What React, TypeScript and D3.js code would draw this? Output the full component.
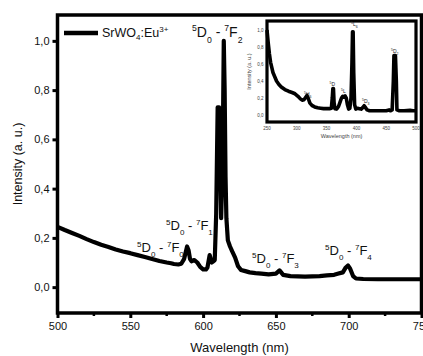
import { useRef, useEffect } from 'react'
import * as d3 from 'd3'

// emission spectrum (main plot)
const emWl = [500, 505, 510, 515, 520, 525, 530, 535, 540, 545, 550, 555, 560, 565, 570, 575, 578, 580, 583, 585, 587, 589, 590, 591, 592, 594, 596, 598, 600, 602, 603, 604.5, 606, 607, 608, 609, 610, 611, 611.8, 612.4, 613.4, 614.2, 614.8, 615.4, 616, 617, 618.5, 620, 622, 624, 626, 629, 632, 636, 640, 645, 650, 652.5, 655, 660, 665, 670, 675, 680, 685, 690, 693, 696, 698, 699.5, 701, 703, 705, 710, 720, 730, 740, 750]
const emI = [0.245, 0.232, 0.22, 0.208, 0.195, 0.183, 0.172, 0.163, 0.153, 0.145, 0.138, 0.13, 0.122, 0.114, 0.106, 0.1, 0.097, 0.094, 0.092, 0.095, 0.115, 0.165, 0.15, 0.115, 0.105, 0.11, 0.1, 0.082, 0.072, 0.072, 0.08, 0.13, 0.1, 0.105, 0.11, 0.3, 0.73, 0.73, 0.5, 0.28, 0.5, 1.0, 0.8, 0.45, 0.28, 0.19, 0.165, 0.145, 0.12, 0.085, 0.07, 0.065, 0.06, 0.057, 0.055, 0.052, 0.055, 0.068, 0.05, 0.045, 0.044, 0.043, 0.044, 0.045, 0.048, 0.05, 0.055, 0.06, 0.08, 0.088, 0.075, 0.045, 0.035, 0.033, 0.032, 0.032, 0.032, 0.032]

// excitation spectrum (inset)
const exWl = [250, 252, 254, 256, 258, 260, 263, 266, 270, 274, 280, 286, 292, 297, 302, 306, 309, 312, 315, 317, 319, 322, 326, 330, 335, 340, 345, 350, 355, 358, 359.5, 360.5, 361.5, 362.5, 364, 367, 370, 373, 375, 377, 379, 381, 383, 385, 387, 389, 391, 392.5, 393.5, 394.5, 395.5, 397, 399, 402, 405, 408, 411, 413, 415, 418, 422, 430, 440, 450, 455, 457, 460, 462, 463, 465.5, 467, 468, 472, 480, 490, 495, 500]
const exI = [1.0, 0.85, 0.72, 0.62, 0.56, 0.5, 0.45, 0.4, 0.36, 0.33, 0.3, 0.28, 0.265, 0.25, 0.22, 0.19, 0.175, 0.18, 0.21, 0.23, 0.2, 0.14, 0.11, 0.095, 0.085, 0.08, 0.075, 0.075, 0.075, 0.08, 0.2, 0.31, 0.31, 0.15, 0.075, 0.07, 0.1, 0.16, 0.2, 0.22, 0.21, 0.225, 0.2, 0.12, 0.07, 0.08, 0.2, 0.6, 0.98, 0.98, 0.5, 0.12, 0.07, 0.08, 0.075, 0.07, 0.09, 0.11, 0.09, 0.06, 0.05, 0.05, 0.05, 0.05, 0.06, 0.05, 0.06, 0.4, 0.7, 0.7, 0.4, 0.06, 0.05, 0.05, 0.055, 0.05, 0.05]

const xTicks = [500, 550, 600, 650, 700, 750]
const xMinor = [525, 575, 625, 675, 725]
const yTicks = [0, 0.2, 0.4, 0.6, 0.8, 1.0]
const inXTicks = [250, 300, 350, 400, 450, 500]

// transition labels: sup, upper level, sub, sup, lower level, sub
const transitions = [
  { text: ['5', 'D', '0', '7', 'F', '2'], x: 192, y: 37, size: 14 },
  { text: ['5', 'D', '0', '7', 'F', '1'], x: 166, y: 230, size: 13 },
  { text: ['5', 'D', '0', '7', 'F', '0'], x: 137, y: 252, size: 13 },
  { text: ['5', 'D', '0', '7', 'F', '3'], x: 252, y: 263, size: 13 },
  { text: ['5', 'D', '0', '7', 'F', '4'], x: 325, y: 255, size: 13 },
]

const FONT = '"Liberation Sans", Arial, Helvetica, sans-serif'
const comma = (d: number) => d3.format('.1f')(d).replace('.', ',')

export default function App() {
  const svgRef = useRef<SVGSVGElement>(null)

  useEffect(() => {
    if (!svgRef.current) return
    const svg = d3.select(svgRef.current)
    svg.selectAll('*').remove()

    const width = 423
    const height = 356
    const plot = { left: 57.5, right: 421.5, top: 15, bottom: 313 }

    const x = d3.scaleLinear().domain([500, 750]).range([plot.left, plot.right])
    const y = d3.scaleLinear().domain([-0.105, 1.105]).range([plot.bottom, plot.top])

    svg.attr('width', width).attr('height', height).style('font-family', FONT)

    // x axis
    const xAxis = svg.append('g')
      .attr('transform', `translate(0,${plot.bottom})`)
      .call(d3.axisBottom(x).tickValues(xTicks).tickSize(5).tickPadding(4).tickFormat(d3.format('d')))
    xAxis.select('.domain').remove()
    xAxis.selectAll('line').attr('stroke-width', 3)
    xAxis.selectAll('text').style('font-size', '11px').style('font-family', FONT).attr('fill', '#111')

    svg.append('g').selectAll('line').data(xMinor).join('line')
      .attr('x1', d => x(d)).attr('x2', d => x(d))
      .attr('y1', plot.bottom).attr('y2', plot.bottom + 3)
      .attr('stroke', '#000').attr('stroke-width', 2.5)

    // y axis
    const yAxis = svg.append('g')
      .attr('transform', `translate(${plot.left},0)`)
      .call(d3.axisLeft(y).tickValues(yTicks).tickSize(5).tickPadding(3).tickFormat(d => comma(d as number)))
    yAxis.select('.domain').remove()
    yAxis.selectAll('line').attr('stroke-width', 3)
    yAxis.selectAll('text').style('font-size', '11px').style('font-family', FONT).attr('fill', '#111')

    // frame
    svg.append('rect')
      .attr('x', plot.left).attr('y', plot.top)
      .attr('width', plot.right - plot.left).attr('height', plot.bottom - plot.top)
      .attr('fill', 'none').attr('stroke', '#000').attr('stroke-width', 3.5)

    svg.append('text')
      .attr('transform', `translate(22,${(plot.top + plot.bottom) / 2}) rotate(-90)`)
      .attr('text-anchor', 'middle')
      .style('font-size', '12.5px').attr('fill', '#111')
      .text('Intensity (a. u.)')

    svg.append('text')
      .attr('x', (plot.left + plot.right) / 2).attr('y', 352)
      .attr('text-anchor', 'middle')
      .style('font-size', '13px').attr('fill', '#111')
      .text('Wavelength (nm)')

    // main curve
    const line = d3.line<number>()
      .x((_, i) => x(emWl[i]))
      .y(d => y(d))
    svg.append('path')
      .attr('d', line(emI))
      .attr('fill', 'none').attr('stroke', '#000')
      .attr('stroke-width', 4.2).attr('stroke-linejoin', 'round')

    // legend
    svg.append('line')
      .attr('x1', 64).attr('x2', 98).attr('y1', 33).attr('y2', 33)
      .attr('stroke', '#000').attr('stroke-width', 4.5)
    const lt = svg.append('text').attr('x', 102).attr('y', 37)
      .style('font-size', '12.5px').attr('fill', '#111')
    lt.append('tspan').text('SrWO')
    lt.append('tspan').attr('dy', 3).style('font-size', '8px').text('4')
    lt.append('tspan').attr('dy', -3).text(':Eu')
    lt.append('tspan').attr('dy', -5).style('font-size', '8px').text('3+')

    // transition labels
    transitions.forEach(t => {
      const s = t.size
      const sm = s * 0.62
      const up = s * 0.42
      const dn = s * 0.4
      const txt = svg.append('text').attr('x', t.x).attr('y', t.y)
        .style('font-size', `${s}px`).attr('fill', '#111')
      txt.append('tspan').attr('dy', -up).style('font-size', `${sm}px`).text(t.text[0])
      txt.append('tspan').attr('dy', up).text(t.text[1])
      txt.append('tspan').attr('dy', dn).style('font-size', `${sm}px`).text(t.text[2])
      txt.append('tspan').attr('dy', -dn).text(' - ')
      txt.append('tspan').attr('dy', -up).style('font-size', `${sm}px`).text(t.text[3])
      txt.append('tspan').attr('dy', up).text(t.text[4])
      txt.append('tspan').attr('dy', dn).style('font-size', `${sm}px`).text(t.text[5])
    })

    // inset
    const ins = { left: 267, right: 416, top: 21, bottom: 122 }
    const ix = d3.scaleLinear().domain([250, 500]).range([ins.left, ins.right])
    const iy = d3.scaleLinear().domain([-0.082, 1.106]).range([ins.bottom, ins.top])

    svg.append('rect')
      .attr('x', ins.left).attr('y', ins.top)
      .attr('width', ins.right - ins.left).attr('height', ins.bottom - ins.top)
      .attr('fill', '#fff')

    const iline = d3.line<number>()
      .x((_, i) => ix(exWl[i]))
      .y(d => iy(d))
    svg.append('path')
      .attr('d', iline(exI))
      .attr('fill', 'none').attr('stroke', '#000')
      .attr('stroke-width', 3.6).attr('stroke-linejoin', 'round')

    svg.append('rect')
      .attr('x', ins.left).attr('y', ins.top)
      .attr('width', ins.right - ins.left).attr('height', ins.bottom - ins.top)
      .attr('fill', 'none').attr('stroke', '#000').attr('stroke-width', 3.2)

    svg.append('g').selectAll('text').data(inXTicks).join('text')
      .attr('x', d => ix(d)).attr('y', 129.5)
      .attr('text-anchor', 'middle')
      .style('font-size', '4.5px').attr('fill', '#444')
      .text(d => d)

    svg.append('g').selectAll('text').data(yTicks).join('text')
      .attr('x', 263.5).attr('y', d => iy(d) + 1.5)
      .attr('text-anchor', 'end')
      .style('font-size', '4.5px').attr('fill', '#444')
      .text(d => comma(d))

    svg.append('text')
      .attr('x', (ins.left + ins.right) / 2).attr('y', 138)
      .attr('text-anchor', 'middle')
      .style('font-size', '5.5px').attr('fill', '#444')
      .text('Wavelength (nm)')

    svg.append('text')
      .attr('transform', `translate(251,${(ins.top + ins.bottom) / 2}) rotate(-90)`)
      .attr('text-anchor', 'middle')
      .style('font-size', '5.5px').attr('fill', '#444')
      .text('Intensity (a. u.)')

    const insetLabels = [
      { x: 304, y: 96, sup: '5', main: 'H', sub: '6' },
      { x: 329.5, y: 86, sup: '5', main: 'D', sub: '' },
      { x: 341, y: 93, sup: '5', main: 'L', sub: '' },
      { x: 351, y: 26, sup: '5', main: 'L', sub: '6' },
      { x: 362, y: 103, sup: '5', main: 'D', sub: '3' },
      { x: 391, y: 53, sup: '5', main: 'D', sub: '2' },
    ]
    insetLabels.forEach(l => {
      const t = svg.append('text').attr('x', l.x).attr('y', l.y)
        .style('font-size', '5px').attr('fill', '#222')
      t.append('tspan').attr('dy', -2).style('font-size', '3.5px').text(l.sup)
      t.append('tspan').attr('dy', 2).text(l.main)
      if (l.sub) t.append('tspan').attr('dy', 1.5).style('font-size', '3.5px').text(l.sub)
    })
  }, [])

  return <svg ref={svgRef} style={{ position: 'absolute', left: 0, top: 0 }} />
}
